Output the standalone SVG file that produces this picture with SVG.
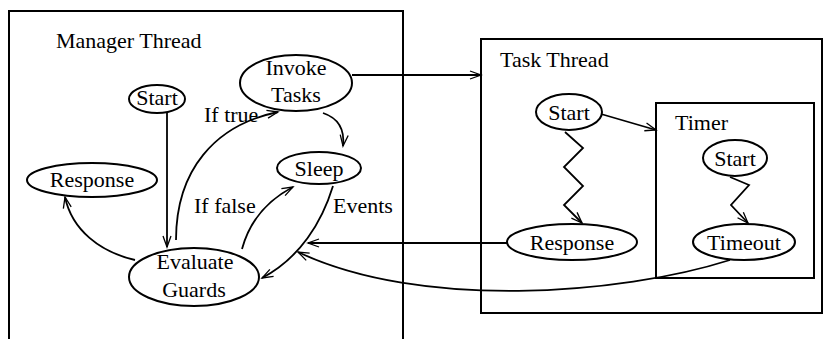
<svg xmlns="http://www.w3.org/2000/svg" width="825" height="339" viewBox="0 0 825 339">
<style>
.box{fill:none;stroke:#000;stroke-width:2}
.node{fill:#fff;stroke:#000;stroke-width:2}
.t{font-family:"Liberation Serif","Times New Roman",serif;font-size:22px;fill:#000}
.c{text-anchor:middle}
.e{fill:none;stroke:#000;stroke-width:1.8}
</style>
<defs>
<marker id="a" markerUnits="userSpaceOnUse" markerWidth="14" markerHeight="12" refX="12" refY="5" orient="auto">
<path d="M1,1 L12,5 L1,9" fill="none" stroke="#000" stroke-width="1.3"/>
</marker>
</defs>
<rect x="9" y="11" width="394" height="340" class="box"/>
<text class="t" x="56" y="48">Manager Thread</text>
<rect x="481" y="39" width="341" height="274" class="box"/>
<text class="t" x="500" y="67">Task Thread</text>
<g id="timer">
<rect x="656" y="103" width="158" height="175" class="box"/>
<text class="t" x="675" y="130">Timer</text>
</g>
<g id="connectors">
<path class="e" d="M352,75 L481,75" marker-end="url(#a)"/>
<path class="e" d="M507,243 L308,243" marker-end="url(#a)"/>
<path class="e" d="M730,260 C620,295 420,310 298,252" marker-end="url(#a)"/>
<path class="e" d="M167,113 L167,247" marker-end="url(#a)"/>
<path class="e" d="M176,240 C176,170 215,125 278,112" marker-end="url(#a)"/>
<path class="e" d="M323,113 C338,118 345,128 343,146" marker-end="url(#a)"/>
<path class="e" d="M242,249 C250,220 268,200 293,187" marker-end="url(#a)"/>
<path class="e" d="M333,186 C322,222 300,258 262,278" marker-end="url(#a)"/>
<path class="e" d="M135,260 C100,252 72,230 65,197" marker-end="url(#a)"/>
<path class="e" d="M601,114 L656,130" marker-end="url(#a)"/>
<path class="e" d="M565,132 L583,148 L564,167 L583,186 L564,205 L582,223" marker-end="url(#a)"/>
<path class="e" d="M730,177 L749,185 L731,205 L748,223" marker-end="url(#a)"/>
<text class="t" x="204" y="122">If true</text>
<text class="t" x="194" y="213">If false</text>
<text class="t" x="333" y="213">Events</text>
</g>
<g id="m-start"><ellipse cx="157" cy="99" rx="28" ry="14" class="node"/><text class="t c" x="157" y="105">Start</text></g>
<g id="invoke"><ellipse cx="296" cy="83" rx="56" ry="28" class="node"/><text class="t c" x="296" y="75">Invoke</text><text class="t c" x="296" y="102">Tasks</text></g>
<g id="m-response"><ellipse cx="92" cy="180" rx="65" ry="17" class="node"/><text class="t c" x="92" y="187">Response</text></g>
<g id="sleep"><ellipse cx="319" cy="168" rx="42" ry="16" class="node"/><text class="t c" x="319" y="176">Sleep</text></g>
<g id="evaluate"><ellipse cx="194" cy="277" rx="65" ry="29" class="node"/><text class="t c" x="195" y="269">Evaluate</text><text class="t c" x="194" y="297">Guards</text></g>
<g id="t-start"><ellipse cx="569" cy="112" rx="33" ry="18" class="node"/><text class="t c" x="569" y="120">Start</text></g>
<g id="t-response"><ellipse cx="572" cy="242" rx="65" ry="18" class="node"/><text class="t c" x="572" y="250">Response</text></g>
<g id="timer-start"><ellipse cx="735" cy="158" rx="32" ry="18" class="node"/><text class="t c" x="735" y="166">Start</text></g>
<g id="timeout"><ellipse cx="744" cy="242" rx="51" ry="18" class="node"/><text class="t c" x="744" y="250">Timeout</text></g>
</svg>
